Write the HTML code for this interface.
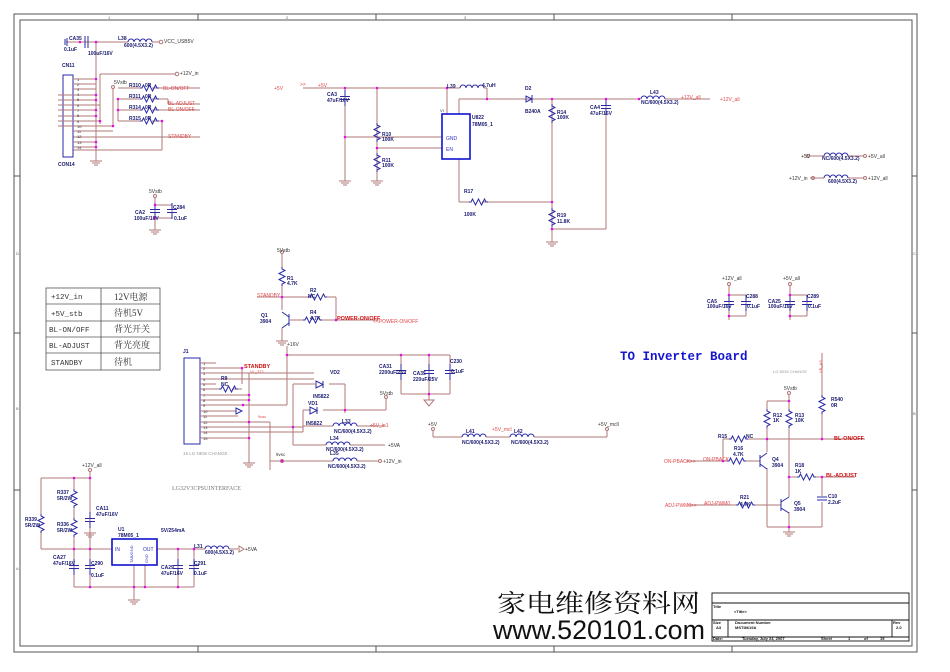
<!DOCTYPE html>
<html><head><meta charset="utf-8"><style>
html,body{margin:0;padding:0;background:#fff;}
svg{display:block;}
text{font-family:"Liberation Sans",sans-serif;}
.w{stroke:#b07878;stroke-width:1;fill:none;}
.b{stroke:#2a2aa8;stroke-width:1;fill:none;}
.k{stroke:#555;stroke-width:1;fill:none;}
.t{font-size:5px;fill:#1a1a70;font-weight:bold;}
.r{font-size:5px;fill:#e04848;}
.rb{font-size:5.5px;fill:#d01010;font-weight:bold;}
.d{fill:#e010e0;}
</style></head><body>
<svg width="950" height="672" viewBox="0 0 950 672" xmlns="http://www.w3.org/2000/svg">
<defs>
<path id="rv" d="M0,0 l0,2 l3,1.5 l-6,3 l6,3 l-6,3 l6,3 l-3,1.5 l0,2" />
<path id="rh" d="M0,0 l2,0 l1.5,-3 l3,6 l3,-6 l3,6 l3,-6 l1.5,3 l2,0" />
<path id="lh" d="M0,0 a3,3 0 0 1 6,0 a3,3 0 0 1 6,0 a3,3 0 0 1 6,0 a3,3 0 0 1 6,0" />
<g id="gnd"><line x1="0" y1="0" x2="0" y2="5"/><line x1="-6" y1="5" x2="6" y2="5"/><line x1="-4" y1="7" x2="4" y2="7"/><line x1="-2" y1="9" x2="2" y2="9"/></g>
<g id="cap"><line x1="0" y1="-8" x2="0" y2="-1.5"/><line x1="-5" y1="-1.5" x2="5" y2="-1.5"/><line x1="-5" y1="1.5" x2="5" y2="1.5"/><line x1="0" y1="1.5" x2="0" y2="8"/></g>
</defs>

<!-- frame -->
<rect x="14" y="14" width="903" height="638" class="k"/>
<rect x="20" y="20" width="892" height="626" class="k"/>
<g class="k">
<line x1="198" y1="646" x2="198" y2="652"/><line x1="376" y1="646" x2="376" y2="652"/><line x1="554" y1="646" x2="554" y2="652"/><line x1="732" y1="646" x2="732" y2="652"/>
<line x1="198" y1="14" x2="198" y2="20"/><line x1="376" y1="14" x2="376" y2="20"/><line x1="554" y1="14" x2="554" y2="20"/><line x1="732" y1="14" x2="732" y2="20"/>
<line x1="14" y1="176" x2="20" y2="176"/><line x1="14" y1="333" x2="20" y2="333"/><line x1="14" y1="490" x2="20" y2="490"/>
<line x1="912" y1="176" x2="917" y2="176"/><line x1="912" y1="333" x2="917" y2="333"/><line x1="912" y1="490" x2="917" y2="490"/>
</g>
<g font-size="4" fill="#666"><text x="108" y="19">1</text><text x="286" y="19">2</text><text x="464" y="19">3</text><text x="16" y="255">D</text><text x="16" y="410">B</text><text x="16" y="570">A</text><text x="913" y="255">C</text><text x="913" y="415">B</text></g>

<!-- top-left connector area -->
<g class="w">
<line x1="66" y1="42" x2="128" y2="42"/><line x1="152" y1="42" x2="159" y2="42"/>
<line x1="96" y1="42" x2="96" y2="80"/>
<line x1="100" y1="74" x2="175" y2="74"/>
<line x1="100" y1="74" x2="100" y2="124"/>
<line x1="113" y1="88" x2="113" y2="127"/>
<line x1="118" y1="88" x2="140" y2="88"/><line x1="152" y1="88" x2="200" y2="88"/>
<line x1="118" y1="99" x2="140" y2="99"/><line x1="152" y1="99" x2="168" y2="99"/><line x1="168" y1="99" x2="168" y2="104"/><line x1="168" y1="104" x2="200" y2="104"/>
<line x1="118" y1="110" x2="140" y2="110"/><line x1="152" y1="110" x2="200" y2="110"/>
<line x1="118" y1="121" x2="140" y2="121"/><line x1="152" y1="121" x2="162" y2="121"/><line x1="162" y1="121" x2="162" y2="150"/>
<line x1="118" y1="99" x2="118" y2="121"/>
<line x1="96" y1="80" x2="96" y2="156"/>
<line x1="73" y1="137" x2="200" y2="137"/>
<line x1="73" y1="150" x2="162" y2="150"/>
</g>
<use href="#lh" x="128" y="42" class="b"/>
<circle cx="161" cy="42" r="1.8" class="w"/><circle cx="177" cy="74" r="1.8" class="w"/><circle cx="113" cy="87" r="1.5" class="w"/>
<g class="b"><line x1="85" y1="36" x2="85" y2="48"/><line x1="88" y1="36" x2="88" y2="48"/><line x1="67" y1="38" x2="67" y2="46"/><line x1="65" y1="39" x2="65" y2="45"/></g>
<use href="#rh" x="140" y="88" class="b"/><use href="#rh" x="140" y="99" class="b"/><use href="#rh" x="140" y="110" class="b"/><use href="#rh" x="140" y="121" class="b"/>
<rect x="63" y="75" width="10" height="82" class="b"/>
<g class="w">
<line x1="73" y1="79" x2="96" y2="79"/><line x1="73" y1="84" x2="96" y2="84"/><line x1="73" y1="89" x2="96" y2="89"/>
<line x1="58" y1="95" x2="96" y2="95"/><line x1="58" y1="100" x2="96" y2="100"/><line x1="58" y1="105" x2="100" y2="105"/>
<line x1="58" y1="110" x2="96" y2="110"/><line x1="58" y1="116" x2="96" y2="116"/><line x1="58" y1="121" x2="100" y2="121"/>
<line x1="58" y1="126" x2="113" y2="126"/><line x1="73" y1="131" x2="113" y2="131"/>
<line x1="73" y1="142" x2="96" y2="142"/><line x1="73" y1="147" x2="96" y2="147"/>
</g>
<g class="d"><circle cx="80" cy="42" r="1.3"/><circle cx="96" cy="42" r="1.3"/><circle cx="96" cy="79" r="1.3"/><circle cx="96" cy="95" r="1.3"/><circle cx="96" cy="100" r="1.3"/><circle cx="96" cy="110" r="1.3"/><circle cx="96" cy="116" r="1.3"/><circle cx="100" cy="121" r="1.3"/><circle cx="113" cy="126" r="1.3"/><circle cx="96" cy="142" r="1.3"/><circle cx="96" cy="147" r="1.3"/><circle cx="118" cy="99" r="1.3"/><circle cx="118" cy="110" r="1.3"/><circle cx="162" cy="121" r="1.3"/></g>
<use href="#gnd" x="96" y="156" class="w"/>
<text x="69" y="40" class="t">CA35</text><text x="64" y="51" class="t">0.1uF</text><text x="88" y="55" class="t">100uF/16V</text>
<text x="118" y="40" class="t">L38</text><text x="124" y="47" class="t">600(4.5X3.2)</text><text x="164" y="43" font-size="5" fill="#333">VCC_USB5V</text>
<text x="180" y="75" font-size="5" fill="#333">+12V_in</text><text x="62" y="67" class="t">CN11</text><text x="58" y="166" class="t">CON14</text><text x="114" y="84" font-size="5" fill="#333">5Vstb</text>
<text x="129" y="87" class="t">R310</text><text x="145" y="87" class="t">0R</text><text x="129" y="98" class="t">R311</text><text x="145" y="98" class="t">0R</text><text x="129" y="109" class="t">R314</text><text x="145" y="109" class="t">0R</text><text x="129" y="120" class="t">R315</text><text x="145" y="120" class="t">0R</text>
<text x="163" y="90" class="r">BL-ON/OFF</text><text x="168" y="105" class="r">BL-ADJUST</text><text x="168" y="111" class="r">BL-ON/OFF</text><text x="168" y="138" class="r">STANDBY</text>
<g font-size="4" fill="#333"><text x="77" y="81">1</text><text x="77" y="86">2</text><text x="77" y="91">3</text><text x="77" y="96">4</text><text x="77" y="101">5</text><text x="77" y="107">6</text><text x="77" y="112">7</text><text x="77" y="117">8</text><text x="77" y="123">9</text><text x="77" y="128">10</text><text x="77" y="133">11</text><text x="77" y="138">12</text><text x="77" y="144">13</text><text x="77" y="149">14</text></g>

<!-- 5Vstb CA2 -->
<g class="w"><line x1="155" y1="198" x2="155" y2="225"/><line x1="155" y1="205" x2="172" y2="205"/><line x1="172" y1="205" x2="172" y2="218"/><line x1="155" y1="218" x2="172" y2="218"/></g>
<circle cx="155" cy="196" r="1.5" class="w"/><use href="#cap" x="155" y="211" class="b"/><use href="#cap" x="172" y="211" class="b"/><use href="#gnd" x="155" y="225" class="w"/>
<g class="d"><circle cx="155" cy="205" r="1.3"/><circle cx="155" cy="218" r="1.3"/></g>
<text x="149" y="193" font-size="5" fill="#333">5Vstb</text><text x="135" y="214" class="t">CA2</text><text x="134" y="220" class="t">100uF/16V</text><text x="173" y="209" class="t">C284</text><text x="174" y="220" class="t">0.1uF</text>

<!-- boost circuit -->
<text x="274" y="90" class="r">+5V</text><text x="300" y="86" class="r">&gt;&gt;</text><text x="318" y="87" class="r">+5V</text>
<g class="w">
<line x1="303" y1="88" x2="460" y2="88"/><line x1="484" y1="88" x2="487" y2="88"/><line x1="487" y1="88" x2="487" y2="99"/>
<line x1="345" y1="88" x2="345" y2="176"/><line x1="377" y1="88" x2="377" y2="176"/>
<line x1="447" y1="88" x2="447" y2="114"/>
<line x1="345" y1="137" x2="442" y2="137"/><line x1="377" y1="148" x2="442" y2="148"/>
<line x1="459" y1="99" x2="459" y2="114"/><line x1="459" y1="99" x2="640" y2="99"/><line x1="665" y1="99" x2="710" y2="99"/>
<line x1="459" y1="159" x2="459" y2="202"/><line x1="459" y1="202" x2="470" y2="202"/><line x1="482" y1="202" x2="552" y2="202"/>
<line x1="552" y1="99" x2="552" y2="237"/><line x1="606" y1="99" x2="606" y2="229"/><line x1="552" y1="229" x2="606" y2="229"/>
</g>
<use href="#lh" x="460" y="88" class="b"/><use href="#lh" x="641" y="99" class="b"/>
<use href="#cap" x="345" y="98" class="b"/><use href="#cap" x="606" y="107" class="b"/>
<use href="#rv" x="377" y="123" class="b"/><use href="#rv" x="377" y="153" class="b"/><use href="#rv" x="552" y="104" class="b"/><use href="#rv" x="552" y="208" class="b"/><use href="#rh" x="469" y="202" class="b"/>
<g class="b"><path d="M526,96 l0,6 l6,-3 z"/><line x1="532" y1="95" x2="532" y2="103"/></g>
<rect x="442" y="114" width="28" height="45" stroke="#1010d0" stroke-width="1.6" fill="none"/>
<use href="#gnd" x="345" y="176" class="w"/><use href="#gnd" x="377" y="176" class="w"/><use href="#gnd" x="552" y="237" class="w"/>
<g class="d"><circle cx="345" cy="88" r="1.3"/><circle cx="377" cy="88" r="1.3"/><circle cx="447" cy="88" r="1.3"/><circle cx="487" cy="99" r="1.3"/><circle cx="552" cy="99" r="1.3"/><circle cx="606" cy="99" r="1.3"/><circle cx="639" cy="99" r="1.3"/><circle cx="345" cy="137" r="1.3"/><circle cx="377" cy="148" r="1.3"/><circle cx="552" cy="202" r="1.3"/><circle cx="552" cy="229" r="1.3"/></g>
<text x="327" y="96" class="t">CA3</text><text x="327" y="102" class="t">47uF/16V</text><text x="382" y="136" class="t">R10</text><text x="382" y="141" class="t">100K</text><text x="382" y="162" class="t">R11</text><text x="382" y="167" class="t">100K</text>
<text x="447" y="88" class="t">L39</text><text x="482" y="87" class="t">4.7uH</text><text x="472" y="119" class="t">U822</text><text x="472" y="126" class="t">78M05_1</text>
<text x="446" y="140" font-size="5" fill="#3030c0">GND</text><text x="446" y="151" font-size="5" fill="#3030c0">EN</text><text x="440" y="112" font-size="4" fill="#333">VI</text>
<text x="525" y="90" class="t">D2</text><text x="525" y="113" class="t">B240A</text><text x="557" y="114" class="t">R14</text><text x="557" y="119" class="t">100K</text>
<text x="590" y="109" class="t">CA4</text><text x="590" y="115" class="t">47uF/16V</text><text x="650" y="94" class="t">L43</text><text x="641" y="104" class="t">NC/600(4.5X3.2)</text>
<text x="681" y="99" class="r">+12V_all</text><text x="720" y="101" class="r">+12V_all</text><text x="464" y="193" class="t">R17</text><text x="464" y="216" class="t">100K</text><text x="557" y="217" class="t">R19</text><text x="557" y="223" class="t">11.8K</text>

<!-- right top inductors -->
<g class="w"><line x1="810" y1="156" x2="824" y2="156"/><line x1="848" y1="156" x2="863" y2="156"/><line x1="810" y1="178" x2="824" y2="178"/><line x1="848" y1="178" x2="863" y2="178"/></g>
<use href="#lh" x="824" y="156" class="b"/><use href="#lh" x="824" y="178" class="b"/>
<circle cx="808" cy="156" r="1.5" class="w"/><circle cx="865" cy="156" r="1.5" class="w"/><circle cx="813" cy="178" r="1.5" class="w"/><circle cx="865" cy="178" r="1.5" class="w"/>
<text x="801" y="158" font-size="5" fill="#333">+5V</text><text x="868" y="158" font-size="5" fill="#333">+5V_all</text><text x="789" y="180" font-size="5" fill="#333">+12V_in</text><text x="868" y="180" font-size="5" fill="#333">+12V_all</text>
<text x="822" y="160" class="t">NC/600(4.5X3.2)</text><text x="828" y="183" class="t">600(4.5X3.2)</text>

<!-- CA5 / CA25 -->
<g class="w"><line x1="729" y1="285" x2="729" y2="320"/><line x1="729" y1="295" x2="746" y2="295"/><line x1="746" y1="295" x2="746" y2="316"/><line x1="729" y1="316" x2="746" y2="316"/>
<line x1="790" y1="285" x2="790" y2="320"/><line x1="790" y1="295" x2="807" y2="295"/><line x1="807" y1="295" x2="807" y2="316"/><line x1="790" y1="316" x2="807" y2="316"/></g>
<circle cx="729" cy="284" r="1.5" class="w"/><circle cx="790" cy="284" r="1.5" class="w"/>
<use href="#cap" x="729" y="303" class="b"/><use href="#cap" x="746" y="303" class="b"/><use href="#cap" x="790" y="303" class="b"/><use href="#cap" x="807" y="303" class="b"/>
<g class="d"><circle cx="729" cy="295" r="1.3"/><circle cx="729" cy="316" r="1.3"/><circle cx="790" cy="295" r="1.3"/><circle cx="790" cy="316" r="1.3"/></g>
<text x="722" y="280" font-size="5" fill="#333">+12V_all</text><text x="783" y="280" font-size="5" fill="#333">+5V_all</text>
<text x="707" y="303" class="t">CA5</text><text x="707" y="308" class="t">100uF/16V</text><text x="746" y="298" class="t">C288</text><text x="747" y="308" class="t">0.1uF</text>
<text x="768" y="303" class="t">CA25</text><text x="768" y="308" class="t">100uF/16V</text><text x="807" y="298" class="t">C289</text><text x="808" y="308" class="t">0.1uF</text>

<!-- table -->
<g stroke="#555" fill="none" stroke-width="0.8"><rect x="46" y="288" width="114" height="82"/><line x1="101" y1="288" x2="101" y2="370"/><line x1="46" y1="304" x2="160" y2="304"/><line x1="46" y1="321" x2="160" y2="321"/><line x1="46" y1="337" x2="160" y2="337"/><line x1="46" y1="353" x2="160" y2="353"/></g>
<g font-size="7.5" fill="#333"><text x="51" y="299" style="font-family:'Liberation Mono',monospace">+12V_in</text><text x="51" y="316" style="font-family:'Liberation Mono',monospace">+5V_stb</text><text x="49" y="332" style="font-family:'Liberation Mono',monospace">BL-ON/OFF</text><text x="49" y="348" style="font-family:'Liberation Mono',monospace">BL-ADJUST</text><text x="51" y="365" style="font-family:'Liberation Mono',monospace">STANDBY</text></g>
<g font-size="9" fill="#333"><text x="114" y="300" style="font-family:'Liberation Serif','Noto Serif CJK SC',serif">12V电源</text><text x="114" y="316" style="font-family:'Liberation Serif','Noto Serif CJK SC',serif">待机5V</text><text x="114" y="332" style="font-family:'Liberation Serif','Noto Serif CJK SC',serif">背光开关</text><text x="114" y="348" style="font-family:'Liberation Serif','Noto Serif CJK SC',serif">背光亮度</text><text x="114" y="365" style="font-family:'Liberation Serif','Noto Serif CJK SC',serif">待机</text></g>

<!-- Q1 -->
<g class="w"><line x1="282" y1="254" x2="282" y2="268"/><line x1="282" y1="286" x2="282" y2="310"/><line x1="257" y1="297" x2="310" y2="297"/><line x1="326" y1="297" x2="336" y2="297"/><line x1="336" y1="297" x2="336" y2="320"/>
<line x1="290" y1="320" x2="304" y2="320"/><line x1="320" y1="320" x2="378" y2="320"/><line x1="282" y1="328" x2="282" y2="336"/></g>
<circle cx="282" cy="252" r="1.5" class="w"/>
<use href="#rv" x="282" y="267" class="b"/><use href="#rh" x="308" y="297" class="b"/><use href="#rh" x="303" y="320" class="b"/>
<g class="b"><line x1="289" y1="314" x2="289" y2="326"/><line x1="289" y1="317" x2="282" y2="312"/><line x1="289" y1="323" x2="282" y2="328"/></g>
<use href="#gnd" x="282" y="336" class="w"/>
<g class="d"><circle cx="282" cy="297" r="1.3"/><circle cx="336" cy="320" r="1.3"/></g>
<text x="277" y="252" font-size="5" fill="#333">5Vstb</text><text x="287" y="280" class="t">R1</text><text x="287" y="285" class="t">4.7K</text><text x="310" y="292" class="t">R2</text><text x="308" y="298" class="t">NC</text>
<text x="257" y="297" class="r">STANDBY</text><text x="261" y="317" class="t">Q1</text><text x="260" y="323" class="t">3904</text><text x="310" y="314" class="t">R4</text><text x="310" y="320" class="t">4.7K</text>
<text x="337" y="320" class="rb">POWER-ON/OFF</text><text x="373" y="323" class="r">&lt;&lt;POWER-ON/OFF</text>

<!-- J1 -->
<rect x="184" y="358" width="16" height="86" class="b"/>
<g class="w">
<line x1="200" y1="363" x2="216" y2="363"/><line x1="200" y1="368" x2="242" y2="368"/><line x1="242" y1="368" x2="242" y2="384"/>
<line x1="200" y1="373" x2="314" y2="373"/><line x1="200" y1="379" x2="314" y2="379"/><line x1="200" y1="384" x2="216" y2="384"/>
<line x1="200" y1="389" x2="220" y2="389"/><line x1="232" y1="389" x2="242" y2="389"/>
<line x1="200" y1="395" x2="249" y2="395"/><line x1="200" y1="400" x2="249" y2="400"/>
<line x1="200" y1="405" x2="287" y2="405"/><line x1="287" y1="346" x2="287" y2="405"/>
<line x1="200" y1="411" x2="236" y2="411"/>
<line x1="200" y1="416" x2="238" y2="416"/><line x1="200" y1="422" x2="270" y2="422"/><line x1="270" y1="422" x2="270" y2="470"/>
<line x1="200" y1="427" x2="303" y2="427"/><line x1="200" y1="432" x2="303" y2="432"/><line x1="200" y1="438" x2="249" y2="438"/>
<line x1="249" y1="373" x2="249" y2="458"/>
<line x1="287" y1="355" x2="450" y2="355"/>
<line x1="293" y1="384" x2="315" y2="384"/><line x1="329" y1="384" x2="345" y2="384"/><line x1="345" y1="384" x2="345" y2="413"/>
<line x1="293" y1="384" x2="293" y2="445"/>
<line x1="303" y1="410" x2="310" y2="410"/><line x1="323" y1="410" x2="386" y2="410"/><line x1="386" y1="410" x2="386" y2="399"/>
<line x1="303" y1="410" x2="303" y2="432"/>
<line x1="303" y1="426" x2="333" y2="426"/><line x1="357" y1="426" x2="385" y2="426"/>
<line x1="293" y1="445" x2="326" y2="445"/><line x1="350" y1="445" x2="385" y2="445"/>
<line x1="270" y1="461" x2="333" y2="461"/><line x1="357" y1="461" x2="378" y2="461"/>
<line x1="401" y1="355" x2="401" y2="394"/><line x1="429" y1="355" x2="429" y2="400"/><line x1="450" y1="355" x2="450" y2="394"/><line x1="401" y1="394" x2="450" y2="394"/>
</g>
<g class="b"><path d="M236,408 l6,3 l-6,3 z"/></g>
<use href="#rh" x="219" y="389" class="b"/>
<g class="b"><path d="M316,381 l0,7 l7,-3.5 z"/><line x1="323" y1="381" x2="323" y2="388"/><path d="M310,407 l0,7 l7,-3.5 z"/><line x1="317" y1="407" x2="317" y2="414"/></g>
<use href="#lh" x="333" y="426" class="b"/><use href="#lh" x="326" y="445" class="b"/><use href="#lh" x="333" y="461" class="b"/>
<use href="#cap" x="401" y="372" class="b"/><use href="#cap" x="429" y="372" class="b"/><use href="#cap" x="450" y="372" class="b"/>
<g class="w"><path d="M424,400 l10,0 l-5,6 z"/></g>
<use href="#gnd" x="249" y="458" class="w"/>
<circle cx="386" cy="397" r="1.5" class="w"/><circle cx="380" cy="461" r="1.5" class="w"/><circle cx="282" cy="461" r="1.5" class="w"/>
<g class="d"><circle cx="242" cy="368" r="1.3"/><circle cx="287" cy="355" r="1.3"/><circle cx="401" cy="355" r="1.3"/><circle cx="429" cy="355" r="1.3"/><circle cx="249" cy="395" r="1.3"/><circle cx="249" cy="400" r="1.3"/><circle cx="243" cy="405" r="1.3"/><circle cx="249" cy="422" r="1.3"/><circle cx="249" cy="438" r="1.3"/><circle cx="345" cy="410" r="1.3"/><circle cx="293" cy="427" r="1.3"/><circle cx="282" cy="461" r="1.3"/><circle cx="429" cy="394" r="1.3"/></g>
<text x="183" y="353" class="t">J1</text><text x="244" y="368" class="rb">STANDBY</text><text x="250" y="373" font-size="4" fill="#e04848">VL_3T1</text>
<text x="221" y="380" class="t">R9</text><text x="221" y="386" class="t">NC</text><text x="287" y="346" font-size="5" fill="#333">+16V</text>
<text x="330" y="374" class="t">VD2</text><text x="313" y="398" class="t">IN5822</text><text x="308" y="405" class="t">VD1</text><text x="306" y="425" class="t">IN5822</text>
<text x="380" y="395" font-size="5" fill="#333">5Vstb</text><text x="379" y="368" class="t">CA31</text><text x="379" y="374" class="t">2200uF/25V</text><text x="413" y="375" class="t">CA35</text><text x="413" y="381" class="t">220uF/25V</text><text x="450" y="363" class="t">C230</text><text x="451" y="373" class="t">0.1uF</text>
<text x="342" y="423" class="t">L33</text><text x="334" y="433" class="t">NC/600(4.5X3.2)</text><text x="370" y="427" class="r">+5V_in1</text>
<text x="330" y="440" class="t">L34</text><text x="326" y="451" class="t">NC/600(4.5X3.2)</text><text x="388" y="447" font-size="5" fill="#333">+5VA</text>
<text x="330" y="455" class="t">L35</text><text x="328" y="468" class="t">NC/600(4.5X3.2)</text><text x="383" y="463" font-size="5" fill="#333">+12V_in</text>
<text x="258" y="418" font-size="4" fill="#e04848">9vsc</text><text x="276" y="456" font-size="4.5" fill="#333">9vsc</text>
<text x="183" y="455" font-size="4.5" fill="#999">15 LG NEW CHANGE</text><text x="172" y="490" font-size="6" fill="#777" style="font-family:'Liberation Serif',serif">LG32V3CPSUINTERFACE</text>
<g font-size="4" fill="#333"><text x="203" y="365">1</text><text x="203" y="370">2</text><text x="203" y="375">3</text><text x="203" y="381">4</text><text x="203" y="386">5</text><text x="203" y="391">6</text><text x="203" y="397">7</text><text x="203" y="402">8</text><text x="203" y="407">9</text><text x="203" y="413">10</text><text x="203" y="418">11</text><text x="203" y="424">12</text><text x="203" y="429">13</text><text x="203" y="434">14</text><text x="203" y="440">15</text></g>

<!-- +5V_mcll -->
<g class="w"><line x1="433" y1="430" x2="433" y2="437"/><line x1="433" y1="437" x2="462" y2="437"/><line x1="486" y1="437" x2="510" y2="437"/><line x1="534" y1="437" x2="607" y2="437"/><line x1="607" y1="437" x2="607" y2="430"/></g>
<use href="#lh" x="462" y="437" class="b"/><use href="#lh" x="510" y="437" class="b"/>
<circle cx="433" cy="429" r="1.5" class="w"/><circle cx="607" cy="429" r="1.5" class="w"/>
<text x="428" y="426" font-size="5" fill="#333">+5V</text><text x="598" y="426" font-size="5" fill="#333">+5V_mcll</text><text x="492" y="431" font-size="5" fill="#e04848">+5V_mcl</text>
<text x="466" y="433" class="t">L41</text><text x="462" y="444" class="t">NC/600(4.5X3.2)</text><text x="514" y="433" class="t">L42</text><text x="511" y="444" class="t">NC/600(4.5X3.2)</text>

<!-- Inverter -->
<text x="620" y="360" font-size="12.5" font-weight="bold" fill="#1515d0" style="font-family:'Liberation Mono',monospace">TO Inverter Board</text>
<text x="773" y="373" font-size="4" fill="#999">LG NEW CHANGE</text>
<g class="w">
<line x1="822" y1="353" x2="822" y2="396"/><line x1="822" y1="413" x2="822" y2="439"/>
<line x1="789" y1="395" x2="789" y2="409"/><line x1="767" y1="401" x2="789" y2="401"/><line x1="767" y1="401" x2="767" y2="409"/>
<line x1="767" y1="427" x2="767" y2="452"/><line x1="789" y1="427" x2="789" y2="497"/>
<line x1="723" y1="439" x2="731" y2="439"/><line x1="747" y1="439" x2="865" y2="439"/><line x1="723" y1="439" x2="723" y2="461"/>
<line x1="686" y1="461" x2="728" y2="461"/><line x1="744" y1="461" x2="760" y2="461"/>
<line x1="789" y1="477" x2="798" y2="477"/><line x1="814" y1="477" x2="855" y2="477"/><line x1="822" y1="477" x2="822" y2="496"/><line x1="822" y1="502" x2="822" y2="527"/>
<line x1="767" y1="468" x2="767" y2="527"/><line x1="767" y1="527" x2="822" y2="527"/>
<line x1="688" y1="505" x2="737" y2="505"/><line x1="753" y1="505" x2="781" y2="505"/><line x1="789" y1="512" x2="789" y2="527"/>
</g>
<circle cx="789" cy="393" r="1.5" class="w"/>
<use href="#rv" x="822" y="395" class="b"/><use href="#rv" x="767" y="409" class="b"/><use href="#rv" x="789" y="409" class="b"/>
<use href="#rh" x="729" y="439" class="b"/><use href="#rh" x="727" y="461" class="b"/><use href="#rh" x="797" y="477" class="b"/><use href="#rh" x="736" y="505" class="b"/>
<g class="b"><line x1="760" y1="455" x2="760" y2="467"/><line x1="760" y1="458" x2="767" y2="453"/><line x1="760" y1="464" x2="767" y2="469"/>
<line x1="781" y1="499" x2="781" y2="511"/><line x1="781" y1="502" x2="789" y2="497"/><line x1="781" y1="508" x2="789" y2="513"/>
<line x1="817" y1="497" x2="827" y2="497"/><line x1="817" y1="500" x2="827" y2="500"/></g>
<use href="#gnd" x="789" y="527" class="w"/>
<g class="d"><circle cx="789" cy="401" r="1.3"/><circle cx="767" cy="439" r="1.3"/><circle cx="822" cy="439" r="1.3"/><circle cx="723" cy="461" r="1.3"/><circle cx="789" cy="477" r="1.3"/><circle cx="822" cy="477" r="1.3"/><circle cx="789" cy="527" r="1.3"/></g>
<text x="784" y="390" font-size="5" fill="#333">5Vstb</text><text x="819" y="370" font-size="4" fill="#e04848" transform="rotate(-90 822 370)">VB_AS</text>
<text x="831" y="401" class="t">R540</text><text x="831" y="407" class="t">0R</text><text x="773" y="417" class="t">R12</text><text x="773" y="422" class="t">1K</text><text x="795" y="417" class="t">R13</text><text x="795" y="422" class="t">10K</text>
<text x="718" y="438" class="t">R15</text><text x="746" y="438" class="t">NC</text><text x="834" y="440" class="rb">BL-ON/OFF</text>
<text x="734" y="450" class="t">R16</text><text x="733" y="456" class="t">4.7K</text><text x="664" y="463" class="r">ON-PBACK&gt;&gt;</text><text x="703" y="461" class="r">ON-PBACK</text>
<text x="772" y="461" class="t">Q4</text><text x="772" y="467" class="t">3904</text><text x="795" y="467" class="t">R18</text><text x="795" y="473" class="t">1K</text><text x="826" y="477" class="rb">BL-ADJUST</text>
<text x="665" y="507" class="r">ADJ-PWM0&gt;&gt;</text><text x="704" y="505" class="r">ADJ-PWM0</text><text x="740" y="499" class="t">R21</text><text x="740" y="506" class="t">4.7K</text>
<text x="794" y="505" class="t">Q5</text><text x="794" y="511" class="t">3904</text><text x="828" y="498" class="t">C10</text><text x="828" y="504" class="t">2.2uF</text>

<!-- U1 bottom-left -->
<g class="w">
<line x1="90" y1="472" x2="90" y2="549"/><line x1="41" y1="478" x2="90" y2="478"/><line x1="41" y1="478" x2="41" y2="515"/><line x1="41" y1="533" x2="41" y2="549"/>
<line x1="74" y1="478" x2="74" y2="490"/><line x1="74" y1="508" x2="74" y2="519"/><line x1="74" y1="537" x2="74" y2="587"/>
<line x1="41" y1="549" x2="112" y2="549"/><line x1="157" y1="549" x2="205" y2="549"/><line x1="229" y1="549" x2="238" y2="549"/>
<line x1="90" y1="549" x2="90" y2="587"/><line x1="178" y1="549" x2="178" y2="587"/><line x1="194" y1="549" x2="194" y2="587"/>
<line x1="74" y1="587" x2="194" y2="587"/><line x1="134" y1="565" x2="134" y2="595"/><line x1="145" y1="565" x2="145" y2="587"/>
</g>
<circle cx="90" cy="470" r="1.5" class="w"/>
<use href="#rv" x="74" y="489" class="b"/><use href="#rv" x="74" y="518" class="b"/><use href="#rv" x="41" y="514" class="b"/>
<use href="#cap" x="90" y="520" class="b"/><use href="#cap" x="74" y="567" class="b"/><use href="#cap" x="90" y="567" class="b"/><use href="#cap" x="178" y="567" class="b"/><use href="#cap" x="194" y="567" class="b"/>
<use href="#gnd" x="90" y="528" class="w"/><use href="#gnd" x="134" y="595" class="w"/>
<use href="#lh" x="205" y="549" class="b"/><path d="M239,546 l5,3 l-5,3 z" class="w"/>
<rect x="112" y="539" width="45" height="26" stroke="#1010d0" stroke-width="1.6" fill="none"/>
<g class="d"><circle cx="74" cy="478" r="1.3"/><circle cx="90" cy="478" r="1.3"/><circle cx="74" cy="549" r="1.3"/><circle cx="90" cy="549" r="1.3"/><circle cx="178" cy="549" r="1.3"/><circle cx="194" cy="549" r="1.3"/><circle cx="90" cy="587" r="1.3"/><circle cx="134" cy="587" r="1.3"/><circle cx="145" cy="587" r="1.3"/><circle cx="178" cy="587" r="1.3"/></g>
<text x="82" y="467" font-size="5" fill="#333">+12V_all</text><text x="57" y="494" class="t">R337</text><text x="57" y="500" class="t">5R/2W</text><text x="96" y="510" class="t">CA11</text><text x="96" y="516" class="t">47uF/16V</text>
<text x="25" y="521" class="t">R339</text><text x="25" y="527" class="t">5R/2W</text><text x="57" y="526" class="t">R336</text><text x="57" y="532" class="t">5R/2W</text>
<text x="118" y="531" class="t">U1</text><text x="118" y="537" class="t">78M05_1</text><text x="161" y="532" class="t">5V/254mA</text>
<text x="115" y="551" font-size="5" fill="#3030c0">IN</text><text x="143" y="551" font-size="5" fill="#3030c0">OUT</text>
<text x="133" y="563" font-size="4" fill="#3030c0" transform="rotate(-90 133 563)">TAB/GND</text><text x="148" y="563" font-size="4" fill="#3030c0" transform="rotate(-90 148 563)">GND</text>
<text x="53" y="559" class="t">CA27</text><text x="53" y="565" class="t">47uF/16V</text><text x="91" y="565" class="t">C290</text><text x="91" y="577" class="t">0.1uF</text>
<text x="161" y="569" class="t">CA29</text><text x="161" y="575" class="t">47uF/16V</text><text x="194" y="565" class="t">C291</text><text x="194" y="575" class="t">0.1uF</text>
<text x="194" y="548" class="t">L31</text><text x="205" y="554" class="t">600(4.5X3.2)</text><text x="245" y="551" font-size="5" fill="#333">+5VA</text>

<!-- watermark -->
<text x="497" y="612" font-size="25" fill="#111" textLength="203" lengthAdjust="spacingAndGlyphs" style="font-family:'Noto Serif CJK SC','WenQuanYi Zen Hei',serif">家电维修资料网</text>
<text x="493" y="639" font-size="27" fill="#111" style="font-family:'Liberation Sans',sans-serif" textLength="212" lengthAdjust="spacingAndGlyphs">www.520101.com</text>

<!-- title block -->
<g stroke="#111" fill="none" stroke-width="0.9"><rect x="712" y="593" width="197" height="48"/><line x1="712" y1="603" x2="909" y2="603"/><line x1="712" y1="620" x2="909" y2="620"/><line x1="712" y1="637" x2="909" y2="637"/><line x1="728" y1="620" x2="728" y2="637"/><line x1="892" y1="620" x2="892" y2="637"/></g>
<g font-size="4" fill="#111" font-weight="bold"><text x="713" y="608">Title</text><text x="734" y="613">&lt;Title&gt;</text><text x="713" y="624">Size</text><text x="716" y="629">A3</text><text x="735" y="624">Document Number</text><text x="735" y="629">MSTI8619A</text><text x="893" y="624">Rev</text><text x="896" y="629">2.0</text>
<text x="713" y="640">Date:</text><text x="742" y="640">Tuesday, July 24, 2007</text><text x="821" y="640">Sheet</text><text x="848" y="640">1</text><text x="864" y="640">of</text><text x="880" y="640">19</text></g>
</svg>
</body></html>
